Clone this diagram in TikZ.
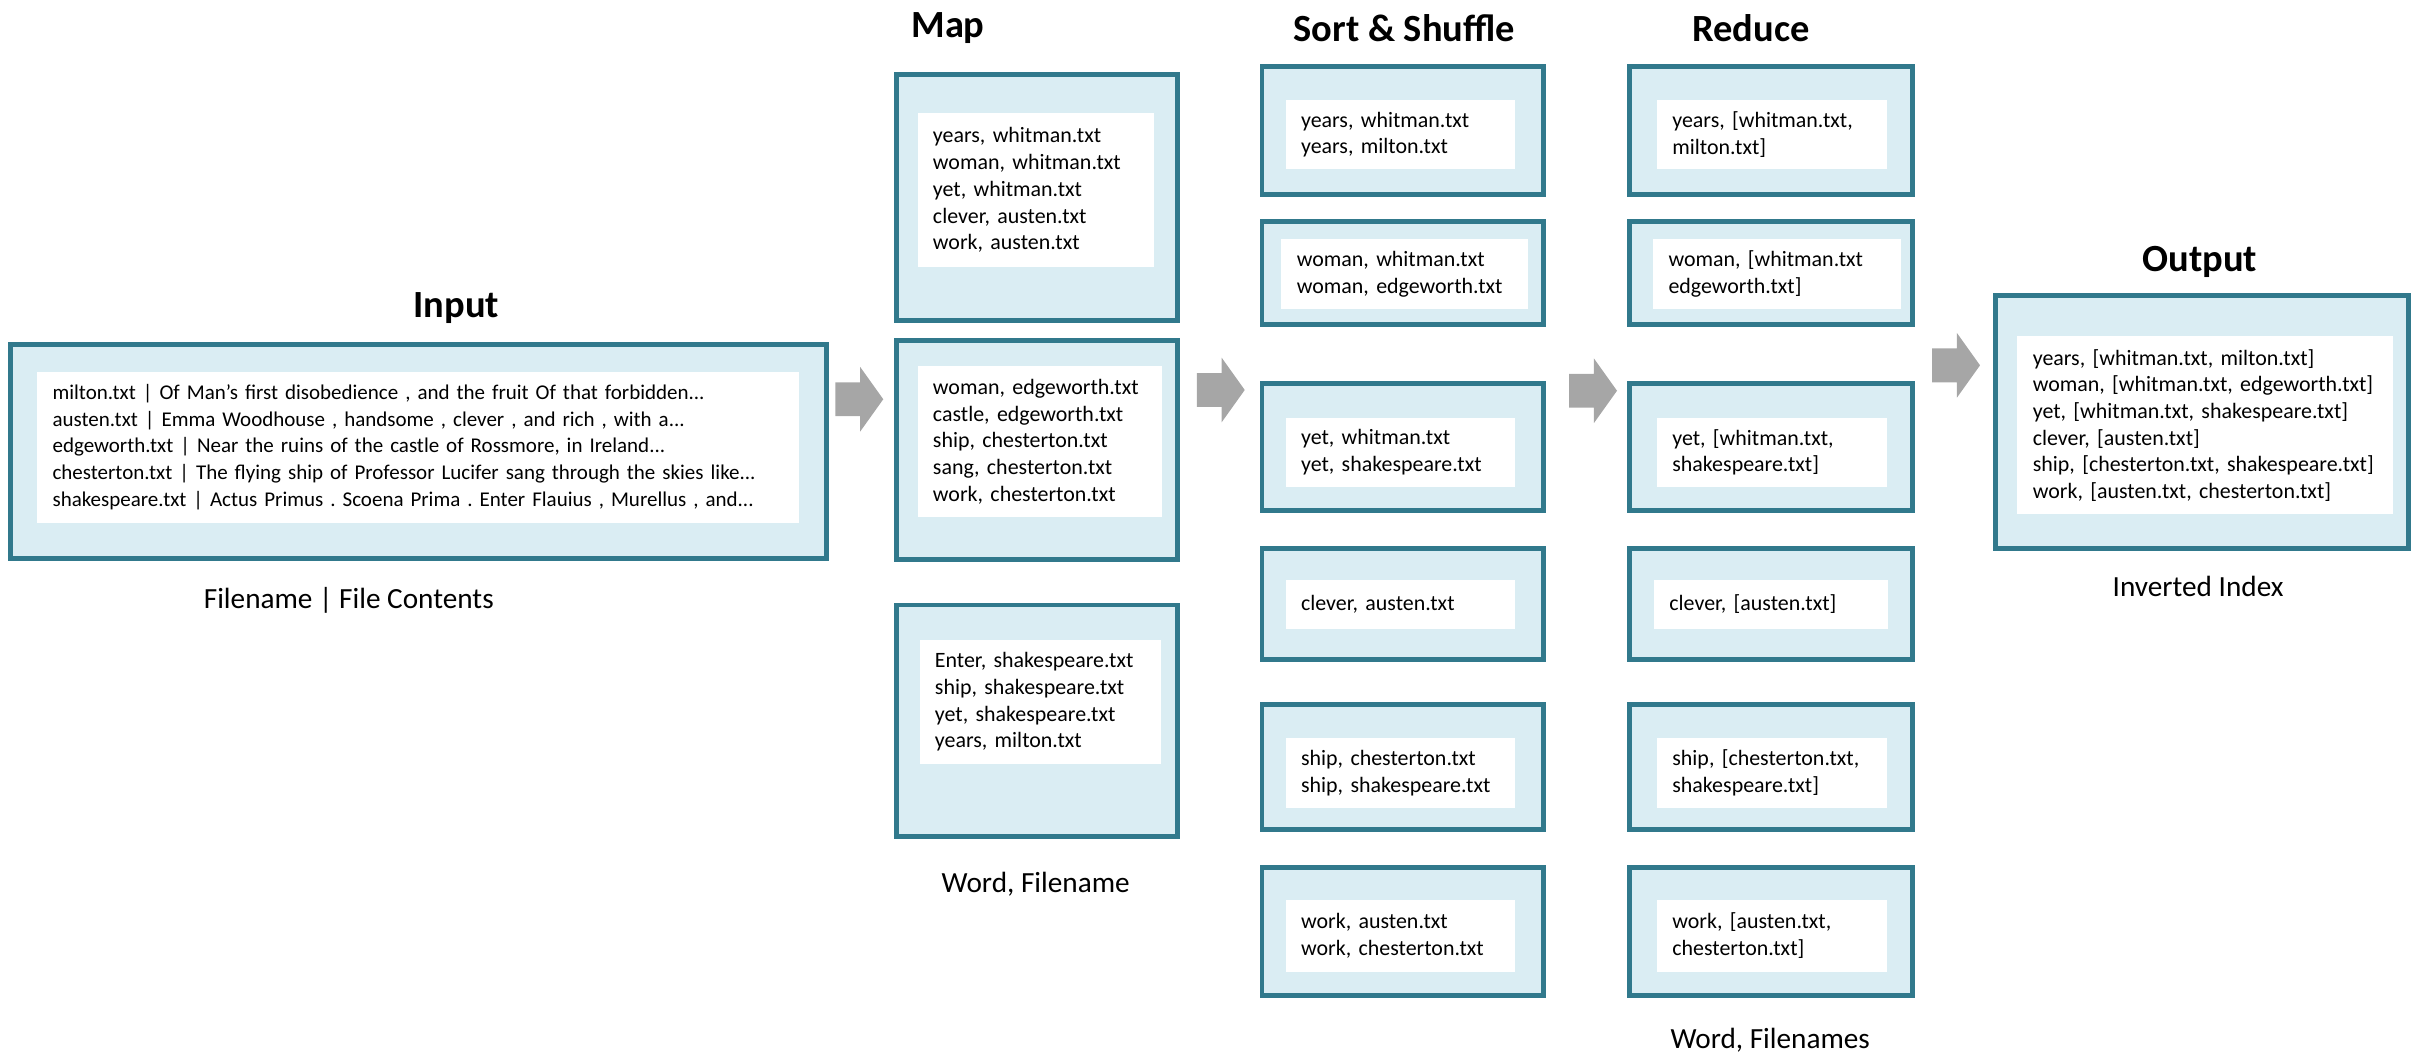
\documentclass[tikz,border=0pt]{standalone}
\usepackage{fontspec}
\setmainfont{Carlito}
\usepackage{tikz}

\definecolor{frameteal}{RGB}{49,121,140}
\definecolor{framefill}{RGB}{218,237,243}
\definecolor{arrowgray}{RGB}{166,166,166}

\tikzset{
  frame/.style={draw=frameteal, fill=framefill, line width=1.8pt, inner sep=0pt},
  card/.style={fill=white, inner xsep=0.2cm, inner ysep=0pt, align=left,
    font=\fontsize{8.1}{9.87}\selectfont\frenchspacing},
  stagetitle/.style={font=\bfseries\fontsize{14.2}{17}\selectfont},
  caption/.style={font=\fontsize{10.8}{13}\selectfont},
  % grey block arrow between two stages
  flow/.pic={\fill[arrowgray] (0,-11) -- (16,-11) -- (16,-21) -- (31,0)
    -- (16,21) -- (16,11) -- (0,11) -- cycle;}
}

\begin{document}
\begin{tikzpicture}[x=0.02cm, y=-0.02cm]
    \useasboundingbox (0,0) rectangle (1568,682);

    % Input
    \node[stagetitle] (inputtitle) at (296,200) {Input};
    \node[frame, minimum width=10.58cm, minimum height=2.77cm] (inframe) at (271.5,293) {};
    \node[card, font=\fontsize{7.75}{9.9}\selectfont\frenchspacing,
      minimum width=9.89cm, minimum height=1.96cm, text width=9.49cm] (incard) at (271.3,290) {%
      \mbox{milton.txt | Of Man's first disobedience , and the fruit Of that forbidden...}\\
      \mbox{austen.txt | Emma Woodhouse , handsome , clever , and rich , with a...}\\
      \mbox{edgeworth.txt | Near the ruins of the castle of Rossmore, in Ireland...}\\
      \mbox{chesterton.txt | The flying ship of Professor Lucifer sang through the skies like...}\\
      \mbox{shakespeare.txt | Actus Primus . Scoena Prima . Enter Flauius , Murellus , and...}};
    \node[caption] (incaption) at (226.3,389.7) {Filename | File Contents};

    % Map
    \node[stagetitle] (maptitle) at (615,18) {Map};
    \node[frame, minimum width=3.65cm, minimum height=3.2cm] (map1) at (672.9,128.1) {};
    \node[frame, minimum width=3.65cm, minimum height=2.85cm] (map2) at (672.9,292) {};
    \node[frame, minimum width=3.65cm, minimum height=3.01cm] (map3) at (672.9,467.7) {};
    \node[card, minimum width=3.07cm, minimum height=1.99cm, text width=2.67cm] (mapcard1) at (672,123.3) {%
      years, whitman.txt\\ woman, whitman.txt\\ yet, whitman.txt\\ clever, austen.txt\\ work, austen.txt};
    \node[card, minimum width=3.17cm, minimum height=1.96cm, text width=2.77cm] (mapcard2) at (674.5,286.5) {%
      woman, edgeworth.txt\\ castle, edgeworth.txt\\ ship, chesterton.txt\\ sang, chesterton.txt\\ work, chesterton.txt};
    \node[card, minimum width=3.14cm, minimum height=1.61cm, text width=2.74cm] (mapcard3) at (675,455.4) {%
      Enter, shakespeare.txt\\ ship, shakespeare.txt\\ yet, shakespeare.txt\\ years, milton.txt};
    \node[caption] (mapcaption) at (671.9,573.5) {Word, Filename};

    % Sort & Shuffle and Reduce frames
    \node[stagetitle] (sorttitle) at (911,18) {Sort \& Shuffle};
    \node[stagetitle] (reducetitle) at (1136,18) {Reduce};
    \foreach \i/\cy/\h in {1/84.7/1.67, 2/177.3/1.34, 3/290/1.64, 4/392/1.44, 5/497.5/1.62, 6/604.1/1.66} {
      \node[frame, minimum width=3.65cm, minimum height=\h cm] (sort\i) at (909.9,\cy) {};
      \node[frame, minimum width=3.67cm, minimum height=\h cm] (red\i) at (1148.8,\cy) {};
    }

    % Sort & Shuffle
    \node[card, minimum width=2.97cm, minimum height=0.9cm, text width=2.57cm] (sortcard1) at (908.3,87.4) {%
      years, whitman.txt\\ years, milton.txt};
    \node[card, minimum width=3.2cm, minimum height=0.91cm, text width=2.8cm] (sortcard2) at (911.3,177.9) {%
      woman, whitman.txt\\ woman, edgeworth.txt};
    \node[card, minimum width=2.97cm, minimum height=0.9cm, text width=2.57cm] (sortcard3) at (908.3,293.5) {%
      yet, whitman.txt\\ yet, shakespeare.txt};
    \node[card, minimum width=2.97cm, minimum height=0.64cm, text width=2.57cm] (sortcard4) at (908.3,392) {%
      clever, austen.txt};
    \node[card, minimum width=2.97cm, minimum height=0.9cm, text width=2.57cm] (sortcard5) at (908.3,501.5) {%
      ship, chesterton.txt\\ ship, shakespeare.txt};
    \node[card, minimum width=2.97cm, minimum height=0.93cm, text width=2.57cm] (sortcard6) at (908.3,607) {%
      work, austen.txt\\ work, chesterton.txt};

    % Reduce
    \node[card, minimum width=2.98cm, minimum height=0.9cm, text width=2.58cm] (redcard1) at (1149.4,87.4) {%
      years, [whitman.txt,\\ milton.txt]};
    \node[card, minimum width=3.22cm, minimum height=0.91cm, text width=2.82cm] (redcard2) at (1152.9,177.9) {%
      woman, [whitman.txt\\ edgeworth.txt]};
    \node[card, minimum width=2.98cm, minimum height=0.9cm, text width=2.58cm] (redcard3) at (1149.4,293.5) {%
      yet, [whitman.txt,\\ shakespeare.txt]};
    \node[card, minimum width=3.04cm, minimum height=0.64cm, text width=2.64cm] (redcard4) at (1149,392) {%
      clever, [austen.txt]};
    \node[card, minimum width=2.98cm, minimum height=0.9cm, text width=2.58cm] (redcard5) at (1149.4,501.5) {%
      ship, [chesterton.txt,\\ shakespeare.txt]};
    \node[card, minimum width=2.98cm, minimum height=0.93cm, text width=2.58cm] (redcard6) at (1149.4,607) {%
      work, [austen.txt,\\ chesterton.txt]};
    \node[caption] (redcaption) at (1148.4,674.7) {Word, Filenames};

    % Output
    \node[stagetitle] (outtitle) at (1427,170) {Output};
    \node[frame, minimum width=5.36cm, minimum height=3.28cm] (outframe) at (1428.3,273.8) {};
    \node[card, minimum width=4.87cm, minimum height=2.31cm, text width=4.47cm] (outcard) at (1430.5,276) {%
      \mbox{years, [whitman.txt, milton.txt]}\\
      \mbox{woman, [whitman.txt, edgeworth.txt]}\\
      \mbox{yet, [whitman.txt, shakespeare.txt]}\\
      \mbox{clever, [austen.txt]}\\
      \mbox{ship, [chesterton.txt, shakespeare.txt]}\\
      \mbox{work, [austen.txt, chesterton.txt]}};
    \node[caption] (outcaption) at (1426,380.6) {Inverted Index};

    % block arrows between the stages
    \pic (flow1) at (542,259) {flow};
    \pic (flow2) at (776.5,253) {flow};
    \pic (flow3) at (1018,253.5) {flow};
    \pic (flow4) at (1253.5,237) {flow};
\end{tikzpicture}
\end{document}
